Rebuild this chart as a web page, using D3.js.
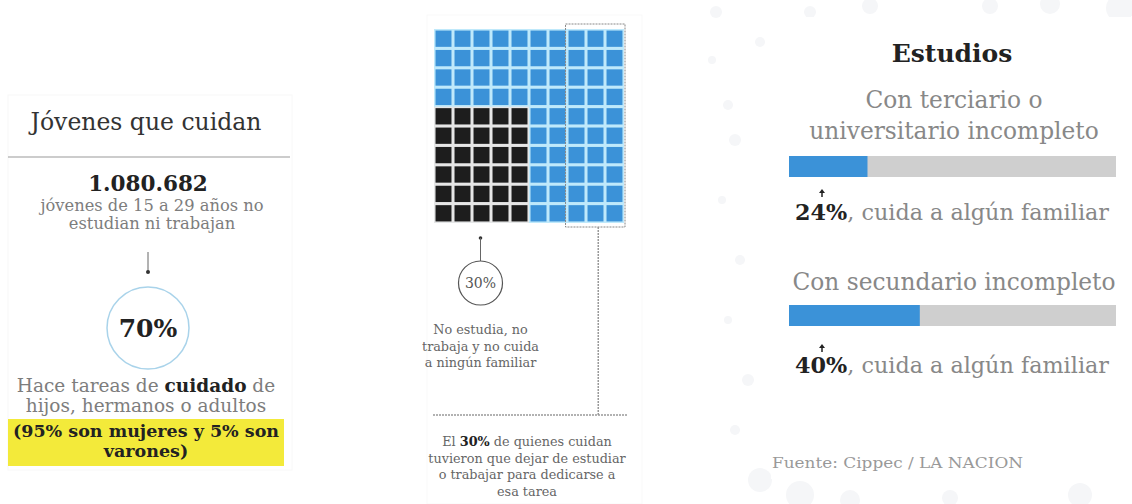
<!DOCTYPE html>
<html><head><meta charset="utf-8">
<script src="https://cdn.jsdelivr.net/npm/d3@7"></script>
<style>
html,body{margin:0;padding:0;background:#fff;}
svg{display:block;}
text{font-family:"DejaVu Serif",serif;}
</style></head>
<body><svg id="c" width="1132" height="504"></svg>
<script>
// ---- data ----
const leftTitle = "Jóvenes que cuidan";
const totalNiNi = "1.080.682";
const totalDesc = ["jóvenes de 15 a 29 años no", "estudian ni trabajan"];
const careShare = 70;
const careDesc = [["Hace tareas de ", "cuidado", " de"], ["hijos, hermanos o adultos"]];
const genderNote = ["(95% son mujeres y 5% son", "varones)"];

const waffleTotal = 100;
const waffleCols = 10;
const waffleRows = 10;
const notCareShare = 30;        // black cells
const notCareCols = 5;          // width of black block
const leftStudyShare = 30;      // highlighted (dashed box) share of cells
const notCareDesc = ["No estudia, no", "trabaja y no cuida", "a ningún familiar"];
const leftStudyDesc = [["El ", "30%", " de quienes cuidan"], ["tuvieron que dejar de estudiar"], ["o trabajar para dedicarse a"], ["esa tarea"]];

const studyTitle = "Estudios";
const studyLabels = [["Con terciario o", "universitario incompleto"], ["Con secundario incompleto"]];
const studyValues = [24, 40];
const studySuffix = ", cuida a algún familiar";
const source = "Fuente: Cippec / LA NACION";

// ---- drawing ----
const svg = d3.select("#c");
const gray = "#7d7d7d", dark = "#222";

// faint background dots
const bgDots = [[716,12,6],[760,42,5],[712,60,4],[728,105,5],[735,140,6],[722,200,4],[740,260,5],[728,320,4],[748,380,6],[735,430,5],[760,480,12],[800,495,14],[850,500,10],[950,498,8],[1080,495,12],[1120,8,14],[1050,4,10],[990,6,8],[870,6,8],[810,12,6],[1125,80,6],[1125,150,5],[1125,300,5]];
svg.append("g").selectAll("circle").data(bgDots).join("circle")
  .attr("cx", d=>d[0]).attr("cy", d=>d[1]).attr("r", d=>d[2]).attr("fill", "#f5f6f8");
svg.append("rect").attr("x",771).attr("y",17).attr("width",361).attr("height",462).attr("fill","#fff");
// faint panel frames
svg.append("rect").attr("x",8).attr("y",95).attr("width",284).attr("height",375).attr("fill","none").attr("stroke","#f8f8f8");
svg.append("rect").attr("x",427).attr("y",15).attr("width",215).attr("height",489).attr("fill","none").attr("stroke","#f9f9f9");

// ---------- Left panel ----------
const L = svg.append("g");
const lx = 146;
L.append("text").attr("x", lx).attr("y", 130).attr("text-anchor","middle")
  .attr("font-size", 23.5).attr("fill", "#333").text(leftTitle);
L.append("line").attr("x1", 8).attr("x2", 290).attr("y1", 157).attr("y2", 157)
  .attr("stroke", "#999").attr("stroke-width", 1.2);
L.append("text").attr("x", lx + 2).attr("y", 191).attr("text-anchor","middle")
  .attr("font-size", 21.5).attr("font-weight","bold").attr("fill", dark).text(totalNiNi);
L.selectAll("text.td").data(totalDesc).join("text").attr("class","td")
  .attr("x", lx + 6).attr("y", (d,i)=>211 + i*18).attr("text-anchor","middle")
  .attr("font-size", 16.3).attr("fill", gray).text(d=>d);
L.append("line").attr("x1", lx + 2).attr("x2", lx + 2).attr("y1", 252).attr("y2", 271)
  .attr("stroke", "#666").attr("stroke-width", 1);
L.append("circle").attr("cx", lx + 2).attr("cy", 272).attr("r", 2).attr("fill", "#333");
L.append("circle").attr("cx", lx+2).attr("cy", 328).attr("r", 41)
  .attr("fill", "#fff").attr("stroke", "#a9d3ea").attr("stroke-width", 1.5);
L.append("text").attr("x", lx+2).attr("y", 337).attr("text-anchor","middle")
  .attr("font-size", 25).attr("font-weight","bold").attr("fill", dark).text(careShare + "%");
careDesc.forEach((parts, i) => {
  const t = L.append("text").attr("x", lx).attr("y", 392 + i*20).attr("text-anchor","middle")
    .attr("font-size", 18.5).attr("fill", gray);
  parts.forEach((p, j) => t.append("tspan").text(p)
    .attr("font-weight", j===1 ? "bold" : null).attr("fill", j===1 ? dark : null));
});
L.append("rect").attr("x", 8).attr("y", 419).attr("width", 276).attr("height", 47).attr("fill", "#f3ea3a");
L.selectAll("text.gn").data(genderNote).join("text").attr("class","gn")
  .attr("x", lx).attr("y", (d,i)=>437 + i*20).attr("text-anchor","middle")
  .attr("font-size", 17.5).attr("font-weight","bold").attr("fill", dark).text(d=>d);

// ---------- Waffle ----------
const W = svg.append("g");
const x = d3.scaleBand().domain(d3.range(waffleCols)).range([434, 624]).paddingInner(0.16).paddingOuter(0.08);
const y = d3.scaleBand().domain(d3.range(waffleRows)).range([29, 223]).paddingInner(0.16).paddingOuter(0.08);
const blackRows = notCareShare / notCareCols;
const cells = d3.range(waffleTotal).map(i => {
  const c = i % waffleCols, r = Math.floor(i / waffleCols);
  const black = c < notCareCols && r >= waffleRows - blackRows;
  return {c, r, black};
});
W.append("rect").attr("x", 434).attr("y", 29).attr("width", 190).attr("height", 194).attr("fill", "#bfe9fb");
W.append("rect").attr("x", x(0) - 1.5).attr("y", y(waffleRows - blackRows) - 1.5)
  .attr("width", x(notCareCols - 1) + x.bandwidth() - x(0) + 3)
  .attr("height", y(waffleRows-1) + y.bandwidth() - y(waffleRows - blackRows) + 3).attr("fill", "#e6e6e6");
W.selectAll("rect.cell").data(cells).join("rect").attr("class","cell")
  .attr("x", d=>x(d.c)).attr("y", d=>y(d.r))
  .attr("width", x.bandwidth()).attr("height", y.bandwidth())
  .attr("fill", d => d.black ? "#1d1d1d" : "#3b92d8");
const boxCols = leftStudyShare / waffleRows;
const bx0 = x(waffleCols - boxCols) - 3, bx1 = 625;
W.append("rect").attr("x", bx0).attr("y", 24).attr("width", bx1 - bx0).attr("height", 203)
  .attr("fill", "none").attr("stroke", "#888").attr("stroke-width", 1).attr("stroke-dasharray", "2,1");
const bcx = (bx0 + bx1) / 2 + 3;
W.append("line").attr("x1", bcx).attr("x2", bcx).attr("y1", 227).attr("y2", 415)
  .attr("stroke", "#999").attr("stroke-width", 1.5).attr("stroke-dasharray", "2,1");
W.append("line").attr("x1", 433).attr("x2", 628).attr("y1", 415).attr("y2", 415)
  .attr("stroke", "#999").attr("stroke-width", 1.5).attr("stroke-dasharray", "2,1");
const px = x(0) + (x(notCareCols-1) + x.bandwidth() - x(0)) / 2 - 1;
W.append("circle").attr("cx", px).attr("cy", 238).attr("r", 1.8).attr("fill", "#333");
W.append("line").attr("x1", px).attr("x2", px).attr("y1", 238).attr("y2", 261).attr("stroke", "#666");
W.append("circle").attr("cx", px).attr("cy", 283).attr("r", 22).attr("fill", "#fff").attr("stroke", "#555").attr("stroke-width", 1.2);
W.append("text").attr("x", px).attr("y", 288).attr("text-anchor","middle").attr("font-size", 14)
  .attr("fill", "#555").text(notCareShare + "%");
W.selectAll("text.nc").data(notCareDesc).join("text").attr("class","nc")
  .attr("x", px).attr("y", (d,i)=>334 + i*16.5).attr("text-anchor","middle")
  .attr("font-size", 12.8).attr("fill", "#666").text(d=>d);
leftStudyDesc.forEach((parts, i) => {
  const t = W.append("text").attr("x", 527).attr("y", 446 + i*16.5).attr("text-anchor","middle")
    .attr("font-size", 12.8).attr("fill", "#666");
  parts.forEach((p, j) => t.append("tspan").text(p)
    .attr("font-weight", j===1 ? "bold" : null).attr("fill", j===1 ? dark : null));
});

// ---------- Right panel ----------
const R = svg.append("g");
const rcx = 952;
R.append("text").attr("x", rcx).attr("y", 62).attr("text-anchor","middle")
  .attr("font-size", 25).attr("font-weight","bold").attr("fill", dark).text(studyTitle);
const bx = d3.scaleLinear().domain([0, 100]).range([789, 1116]);
const labelTop = [108, 290];
const barY = [156, 305];
studyValues.forEach((v, i) => {
  studyLabels[i].forEach((l, k) => R.append("text").attr("x", rcx + 2).attr("y", labelTop[i] + k*31)
    .attr("text-anchor","middle").attr("font-size", 23.3).attr("fill", "#888").text(l));
  R.append("rect").attr("x", bx(0)).attr("y", barY[i]).attr("width", bx(100) - bx(0)).attr("height", 21).attr("fill", "#cfcfcf");
  R.append("rect").attr("x", bx(0)).attr("y", barY[i]).attr("width", bx(v) - bx(0)).attr("height", 21).attr("fill", "#3b92d8");
  const ay = barY[i] + 33 + (i===1 ? 6 : 0);
  R.append("path").attr("d", `M${822-3},${ay+4}L${822},${ay}L${822+3},${ay+4}Z`).attr("fill", "#222");
  R.append("line").attr("x1", 822).attr("x2", 822).attr("y1", ay+3).attr("y2", ay+8).attr("stroke", "#222").attr("stroke-width", 1.5);
  const t = R.append("text").attr("x", rcx).attr("y", barY[i] + 64 + (i===1 ? 4 : 0)).attr("text-anchor","middle")
    .attr("font-size", 22.3).attr("fill", "#888");
  t.append("tspan").attr("font-weight","bold").attr("fill", dark).text(v + "%");
  t.append("tspan").text(studySuffix);
});
R.append("text").attr("x", 772).attr("y", 468).attr("font-size", 15).attr("fill", "#999")
  .attr("textLength", 251).attr("lengthAdjust", "spacingAndGlyphs").text(source);
</script></body></html>
